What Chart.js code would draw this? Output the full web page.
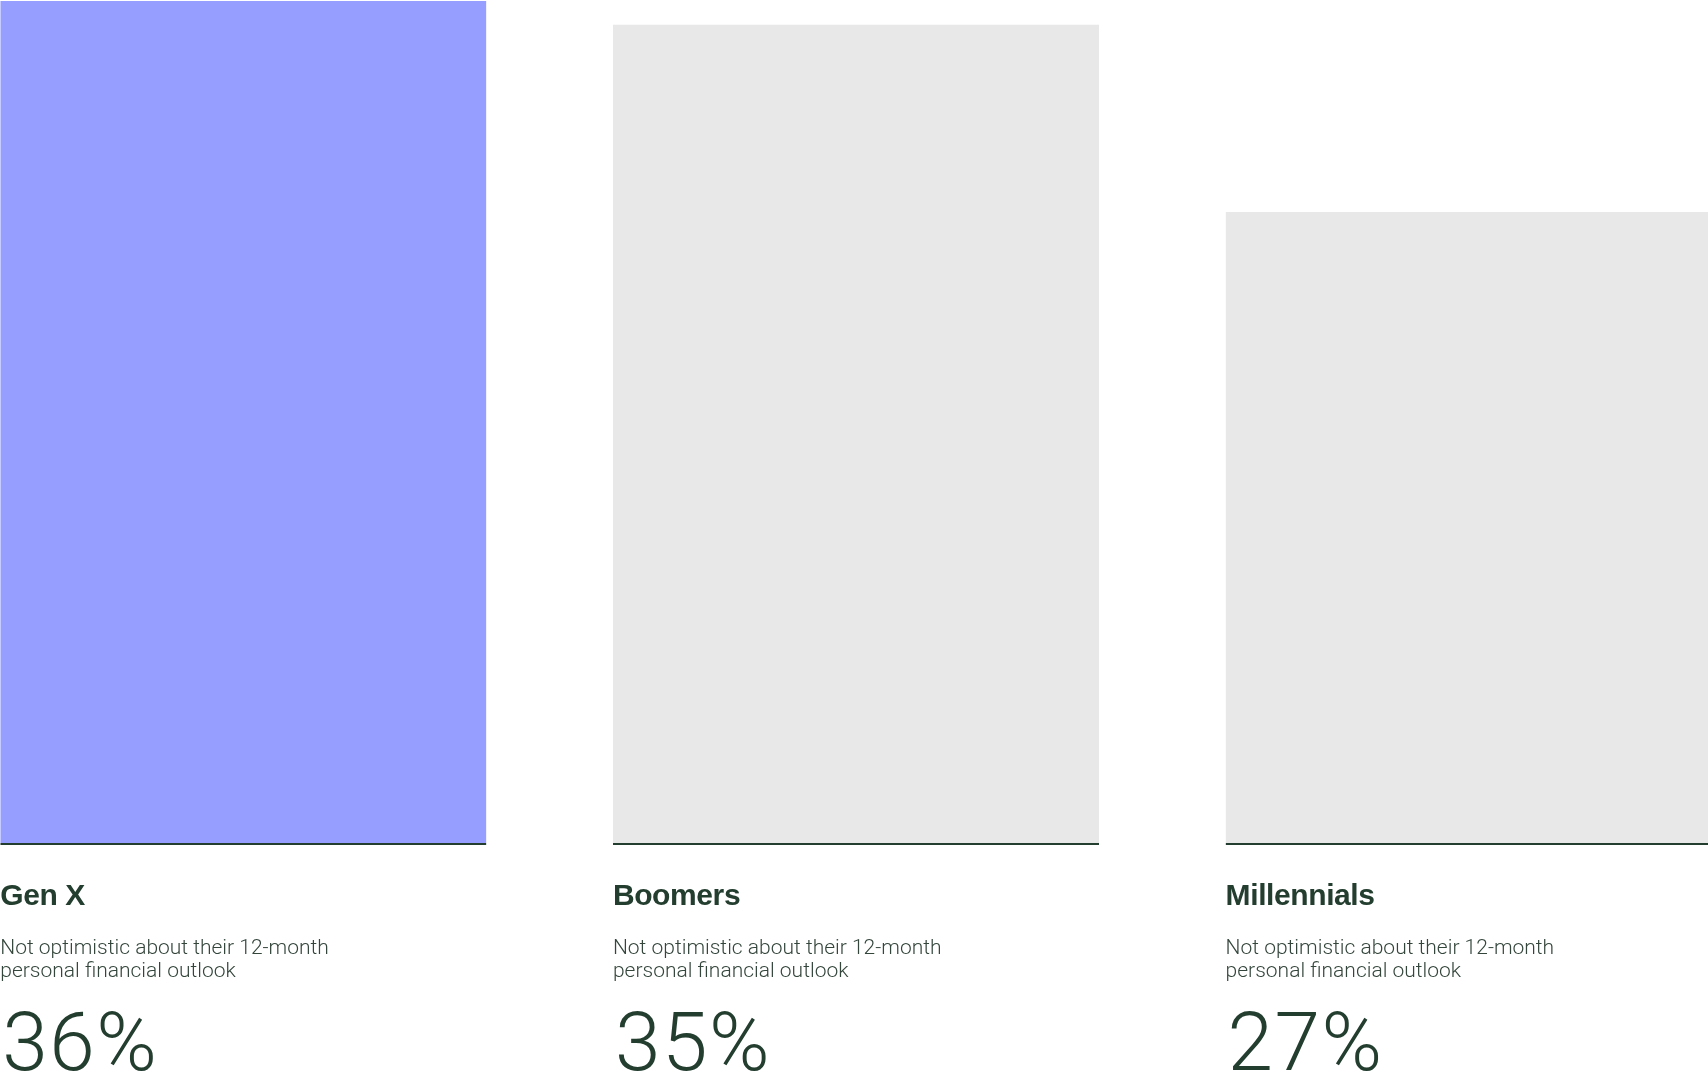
<!DOCTYPE html>
<html>
<head>
<meta charset="utf-8">
<script src="https://cdn.jsdelivr.net/npm/chart.js@4.4.1/dist/chart.umd.min.js"></script>
<style>
  html, body { margin: 0; padding: 0; background: #fff; overflow: hidden; }
  #wrap { position: absolute; left: -63px; top: 0; width: 1838px; height: 1078px; }
</style>
</head>
<body>
<div id="wrap"><canvas id="chart"></canvas></div>
<script>
var groups = ["Gen X", "Boomers", "Millennials"];
var notOptimistic = [36, 35, 27];
var subtitle = ["Not optimistic about their 12-month", "personal financial outlook"];
var barColors = ["#969eff", "#e8e8e8", "#e8e8e8"];

var ink = "#233d2f";

// draws the label, subtitle and big number under each bar
var captions = {
  id: 'captions',
  afterDraw: function (chart) {
    var ctx = chart.ctx;
    var meta = chart.getDatasetMeta(0);
    ctx.save();
    ctx.textAlign = 'left';
    ctx.textBaseline = 'alphabetic';
    meta.data.forEach(function (bar, i) {
      var left = bar.x - bar.width / 2;

      ctx.fillStyle = ink;
      ctx.font = 'bold 30px "Liberation Sans", Arial, sans-serif';
      ctx.letterSpacing = '-0.4px';
      ctx.fillText(groups[i], left, 905);

      ctx.fillStyle = "#34463c";
      ctx.font = '300 21px Roboto, "Liberation Sans", sans-serif';
      ctx.letterSpacing = '0px';
      ctx.fillText(subtitle[0], left, 954);
      ctx.fillText(subtitle[1], left, 977);

      ctx.fillStyle = ink;
      ctx.font = '300 82px Roboto, "Liberation Sans", sans-serif';
      ctx.letterSpacing = '1.5px';
      ctx.fillText(notOptimistic[i] + '%', left + 2, 1070);
    });
    ctx.restore();
  }
};

var ctx = document.getElementById("chart");
var chart = new Chart(ctx, {
  type: 'bar',
  data: {
    labels: groups,
    datasets: [{
      data: notOptimistic,
      backgroundColor: barColors,
      borderColor: ink,
      borderWidth: { top: 0, left: 0, right: 0, bottom: 2 },
      borderSkipped: false,
      barPercentage: 486 / 612.5,
      categoryPercentage: 1
    }]
  },
  options: {
    responsive: true,
    maintainAspectRatio: false,
    animation: false,
    layout: { padding: { top: 1, bottom: 233, left: 0, right: 0 } },
    plugins: {
      legend: { display: false },
      tooltip: { enabled: false }
    },
    scales: {
      x: { display: false },
      y: { display: false, min: 0, max: 36 }
    }
  },
  plugins: [captions]
});
</script>
</body>
</html>
